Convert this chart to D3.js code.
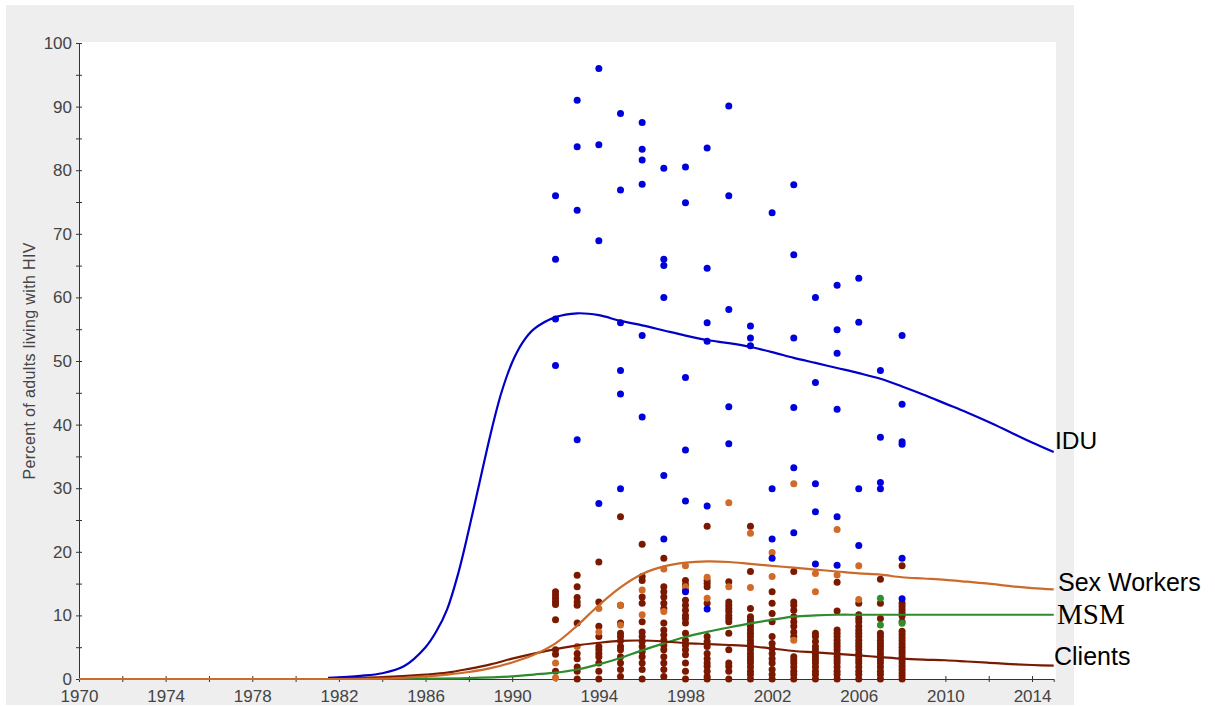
<!DOCTYPE html>
<html>
<head>
<meta charset="utf-8">
<script src="https://cdn.jsdelivr.net/npm/d3@7"></script>
<style>
html,body{margin:0;padding:0;background:#fff;}
svg{display:block;}
</style>
</head>
<body>
<svg id="chart" width="1215" height="706"></svg>
<script>
// ---------- DATA ----------
const yTickValues = [0,5,10,15,20,25,30,35,40,45,50,55,60,65,70,75,80,85,90,95,100];
const xTickValues = [1970,1972,1974,1976,1978,1980,1982,1984,1986,1988,1990,1992,1994,1996,1998,2000,2002,2004,2006,2008,2010,2012,2014];
const yAxisTitle = "Percent of adults living with HIV";

// Model curves: [year, percent]
const iduCurve = [[1981.5,0.2],[1983,0.5],[1984,0.9],[1985,2.0],[1986,5.0],[1986.5,7.5],[1987,11],[1987.5,16.5],[1988,23.5],[1988.5,31],[1989,38.5],[1989.5,45],[1990,49.8],[1990.5,53],[1991,55],[1992,56.9],[1993,57.5],[1994,57.2],[1995,56.3],[1996,55.6],[1997,54.8],[1998,54.0],[1999,53.3],[2000,52.8],[2001,52.2],[2002,51.4],[2003,50.5],[2004,49.7],[2005,48.9],[2006,48.1],[2007,47.2],[2008,46.0],[2009,44.7],[2010,43.3],[2011,41.9],[2012,40.4],[2013,38.8],[2014,37.2],[2015,35.7]];
const swCurve = [[1970,0],[1975,0],[1980,0],[1984,0.05],[1985,0.2],[1986,0.4],[1987,0.7],[1988,1.1],[1989,1.7],[1990,2.6],[1991,3.8],[1992,5.6],[1993,8.4],[1994,11.6],[1995,14.4],[1996,16.5],[1997,17.7],[1998,18.3],[1999,18.5],[2000,18.4],[2001,18.1],[2002,17.8],[2003,17.5],[2004,17.2],[2005,16.9],[2006,16.6],[2007,16.4],[2008,16.0],[2009,15.8],[2010,15.6],[2011,15.3],[2012,15.0],[2013,14.6],[2014,14.3],[2015,14.1]];
const msmCurve = [[1981.5,0],[1986,0.05],[1988,0.15],[1990,0.4],[1991,0.7],[1992,1.0],[1993,1.5],[1994,2.3],[1995,3.3],[1996,4.5],[1997,5.6],[1998,6.6],[1999,7.4],[2000,8.1],[2001,8.75],[2002,9.3],[2003,9.8],[2004,10.0],[2005,10.1],[2006,10.1],[2008,10.1],[2010,10.1],[2012,10.1],[2015,10.1]];
const clientsCurve = [[1981.5,0.1],[1984,0.3],[1986,0.7],[1987,1.0],[1988,1.6],[1989,2.3],[1990,3.2],[1991,4.0],[1992,4.7],[1993,5.3],[1994,5.7],[1995,6.0],[1996,6.05],[1997,5.9],[1998,5.65],[1999,5.5],[2000,5.35],[2001,5.15],[2002,4.8],[2003,4.4],[2004,4.2],[2005,3.95],[2006,3.7],[2007,3.45],[2008,3.2],[2009,3.05],[2010,2.95],[2011,2.75],[2012,2.55],[2013,2.35],[2014,2.2],[2015,2.1]];

// Survey data points: [year, [values...]]
const iduPoints = [
  [1992,[76.0,66.0,56.6,49.3]],
  [1993,[91.0,83.7,73.7,37.6]],
  [1994,[96.0,84.0,68.9,27.6]],
  [1995,[88.9,76.9,56.0,48.5,44.8,29.9]],
  [1996,[87.5,83.3,81.6,77.8,54.0,41.2]],
  [1997,[80.3,66.0,65.0,60.0,32.0,22.0]],
  [1998,[80.5,74.9,47.4,36.0,28.0,13.7]],
  [1999,[83.5,64.6,56.0,53.1,27.2,11.0]],
  [2000,[90.1,76.0,58.1,42.8,37.0]],
  [2001,[55.5,53.6,52.4]],
  [2002,[73.3,29.9,22.0,19.0]],
  [2003,[77.7,66.7,53.6,42.7,33.2,23.0]],
  [2004,[60.0,46.6,30.7,26.3,18.1]],
  [2005,[61.9,54.9,51.2,42.4,25.5,17.9]],
  [2006,[63.0,56.1,29.9,21.0]],
  [2007,[48.5,38.0,30.9,29.9]],
  [2008,[54.0,43.2,37.3,36.9,19.0,12.6]]
];
const swPoints = [
  [1992,[2.5,0.2]],
  [1993,[5.1]],
  [1994,[11.1,7.4]],
  [1995,[11.6,8.5]],
  [1996,[14.0,10.1]],
  [1997,[17.3,10.6]],
  [1998,[17.8,14.5]],
  [1999,[16.0,12.7]],
  [2000,[27.7,14.5]],
  [2001,[22.9,14.4]],
  [2002,[19.9,16.1]],
  [2003,[30.7,6.1]],
  [2004,[16.6,13.7]],
  [2005,[23.5,16.35]],
  [2006,[17.8,12.5]]
];
const msmPoints = [
  [2007,[12.7,8.5]],
  [2008,[8.75]]
];
const clientsPoints = [
  [1992,[13.7,13.2,12.7,12.2,11.7,9.3,4.6,3.9,1.2]],
  [1993,[16.3,14.5,12.8,12.1,11.6,8.8,4.0,3.2,1.9,1.2,0]],
  [1994,[18.4,12.1,8.3,6.7,5.1,4.6,4.0,3.5,2.5,1.2,0]],
  [1995,[25.5,11.6,8.8,7.2,6.7,6.0,5.1,4.6,3.5,2.5,1.5,0.4]],
  [1996,[21.2,16.1,15.5,12.9,11.9,9.0,7.4,6.7,5.9,5.1,4.3,3.5,2.5,1.5,0]],
  [1997,[19.0,14.5,13.7,12.9,11.9,11.1,8.8,7.7,6.9,6.1,5.3,4.6,3.5,2.5,1.5,0.4]],
  [1998,[15.5,14.8,14.0,12.4,11.6,10.8,10.0,9.5,8.8,7.2,6.1,5.3,4.6,3.8,2.5,1.2,0]],
  [1999,[24.0,15.5,15.0,14.5,11.9,6.7,5.9,5.1,4.0,3.2,2.5,2.0,1.2,0.4,0]],
  [2000,[15.3,12.1,11.6,11.1,10.6,10.0,9.5,9.0,7.2,4.6,2.5,2.0,1.2,0]],
  [2001,[24.0,16.9,11.1,9.8,9.3,8.8,8.3,7.7,7.2,6.7,6.1,5.6,5.1,4.6,4.0,3.5,3.0,2.5,1.9,1.2,0.7,0]],
  [2002,[13.7,11.9,10.3,9.0,6.7,5.6,4.8,4.0,3.2,2.5,1.5,0.7,0]],
  [2003,[16.9,12.1,11.6,10.8,9.8,9.0,8.3,7.4,6.7,3.5,3.0,2.5,1.9,1.2,0.7,0]],
  [2004,[7.2,6.7,5.9,5.1,4.6,4.0,3.5,3.0,2.5,1.9,1.2,0.7,0]],
  [2005,[15.2,10.7,7.7,7.2,6.7,6.1,5.6,5.1,4.6,4.0,3.5,3.0,2.5,1.9,1.2,0.7,0]],
  [2006,[11.9,10.1,9.5,9.0,8.3,7.7,7.2,6.7,6.1,5.6,5.1,4.6,4.0,3.5,3.0,2.5,1.9,1.2,0.7,0]],
  [2007,[15.7,11.9,9.5,7.2,6.7,6.1,5.6,5.1,4.6,4.0,3.5,3.0,2.5,1.9,1.2,0.7,0]],
  [2008,[17.8,11.9,11.4,10.9,10.4,9.9,9.0,7.5,7.0,6.5,6.0,5.5,5.0,4.5,4.0,3.5,3.0,2.5,2.0,1.5,1.0,0.5,0]]
];

const seriesNames = ["IDU","Sex Workers","MSM","Clients"];

// ---------- DRAW ----------
const svg = d3.select("#chart");

svg.append("rect").attr("x",6).attr("y",5).attr("width",1068).attr("height",700).attr("fill","#eeeeee");
svg.append("rect").attr("x",79).attr("y",42).attr("width",977).attr("height",637).attr("fill","#ffffff");

const x = d3.scaleLinear().domain([1970,2015]).range([79,1053.7]);
const y = d3.scaleLinear().domain([0,100]).range([679,43]);

const font = "'Liberation Sans', Arial, sans-serif";

// Y axis
const yAxis = svg.append("g").attr("transform","translate(79,0)")
  .call(d3.axisLeft(y).tickValues(yTickValues).tickSizeOuter(0).tickSize(3).tickPadding(4)
    .tickFormat(d => d % 10 === 0 ? d : ""));
yAxis.select(".domain").attr("stroke","#333");
yAxis.selectAll(".tick line").attr("x1",-3).attr("x2",3).attr("stroke","#333");
yAxis.selectAll(".tick text").attr("font-family",font).attr("font-size",17).attr("fill","#444");

// X axis
const xAxis = svg.append("g").attr("transform","translate(0,679)")
  .call(d3.axisBottom(x).tickValues(xTickValues).tickSizeOuter(0).tickSize(3)
    .tickFormat(d => (d - 1970) % 4 === 0 ? d : ""));
xAxis.select(".domain").attr("stroke","#333");
xAxis.selectAll(".tick line").attr("y1",-3).attr("y2",3).attr("stroke","#333");
xAxis.selectAll(".tick text").attr("font-family",font).attr("font-size",17).attr("fill","#444")
  .attr("y",23).attr("dy",null);

// Y axis title
svg.append("text")
  .attr("transform","translate(35,361) rotate(-90)")
  .attr("text-anchor","middle")
  .attr("font-family",font).attr("font-size",16).attr("fill","#444")
  .attr("textLength",237).attr("lengthAdjust","spacing")
  .text(yAxisTitle);

// Points
function drawPoints(data, color){
  const flat = [];
  data.forEach(([yr, vals]) => vals.forEach(v => flat.push([yr, v])));
  svg.append("g").selectAll("circle").data(flat).join("circle")
    .attr("cx", d => x(d[0])).attr("cy", d => y(d[1])).attr("r", 3.5)
    .attr("fill", color);
}
drawPoints(clientsPoints, "#7a1800");
drawPoints(swPoints, "#d06a28");
drawPoints(msmPoints, "#2f8f2f");
drawPoints(iduPoints, "#0000dd");

// Curves
const line = d3.line().x(d => x(d[0])).y(d => y(d[1])).curve(d3.curveCatmullRom.alpha(0.5));
function drawCurve(data, color){
  svg.append("path").datum(data).attr("d", line)
    .attr("fill","none").attr("stroke",color).attr("stroke-width",2.2);
}
drawCurve(msmCurve, "#2e8b2e");
drawCurve(clientsCurve, "#7a1a00");
drawCurve(iduCurve, "#0000c8");
drawCurve(swCurve, "#cc6a2a");

// Right-side labels
const labels = [
  {t: seriesNames[0], x:1055, y:449, f:font, s:24.5},
  {t: seriesNames[1], x:1058, y:591, f:font, s:25},
  {t: seriesNames[2], x:1057, y:624, f:"'Liberation Serif', 'Times New Roman', serif", s:29},
  {t: seriesNames[3], x:1054, y:665, f:font, s:25}
];
svg.append("g").selectAll("text").data(labels).join("text")
  .attr("x", d => d.x).attr("y", d => d.y)
  .attr("font-family", d => d.f).attr("font-size", d => d.s)
  .attr("fill","#000").text(d => d.t);
</script>
</body>
</html>
